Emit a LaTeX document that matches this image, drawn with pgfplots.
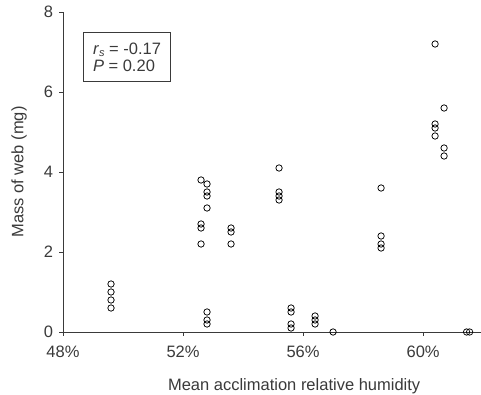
\documentclass[border=0pt]{standalone}
\usepackage{pgfplots}
\pgfplotsset{compat=1.18}
\usepackage{fontspec}
\setmainfont{Liberation Sans}
\definecolor{txt}{HTML}{3A3A3A}
\begin{document}
\begin{tikzpicture}[x=1pt,y=1pt]
\path[use as bounding box] (0,0) rectangle (481,395);
\begin{axis}[
  at={(63pt,63pt)}, anchor=south west,
  scale only axis, width=418pt, height=320pt,
  xmin=48, xmax=61.93, ymin=0, ymax=8,
  axis x line*=bottom, axis y line*=left,
  axis line style={-, color=txt, line width=0.8pt},
  tick align=outside, major tick length=4pt,
  tick style={color=txt, line width=0.8pt},
  xtick={48,52,56,60}, xticklabels={48\%,52\%,56\%,60\%},
  ytick={0,2,4,6,8},
  font=\fontsize{16}{19}\selectfont,
  tick label style={font=\fontsize{16.5}{19}\selectfont, color=txt},
  xticklabel style={yshift=-6pt},
  yticklabel style={xshift=-2.5pt},
  /pgf/number format/assume math mode=true,
  xlabel={Mean acclimation relative humidity},
  ylabel={Mass of web (mg)},
  xlabel style={at={(axis description cs:0.553,-0.168)}, anchor=center, color=txt, font=\fontsize{16.5}{19}\selectfont},
  ylabel style={at={(axis description cs:-0.105,0.5)}, anchor=center, color=txt, font=\fontsize{16.5}{19}\selectfont},
  clip=false,
]
\addplot[only marks, mark=o, mark size=3.2pt, mark options={line width=0.75pt, black, fill=white}] coordinates {
(49.6,1.2) (49.6,1.0) (49.6,0.8) (49.6,0.6)
(52.6,3.8) (52.6,2.7) (52.6,2.6) (52.6,2.2)
(52.8,3.7) (52.8,3.5) (52.8,3.4) (52.8,3.1) (52.8,0.5) (52.8,0.3) (52.8,0.2)
(53.6,2.6) (53.6,2.5) (53.6,2.2)
(55.2,4.1) (55.2,3.5) (55.2,3.4) (55.2,3.3)
(55.6,0.6) (55.6,0.5) (55.6,0.2) (55.6,0.1)
(56.4,0.4) (56.4,0.3) (56.4,0.2)
(57.0,0)
(58.6,3.6) (58.6,2.4) (58.6,2.2) (58.6,2.1)
(60.4,7.2) (60.4,5.2) (60.4,5.1) (60.4,4.9)
(60.7,5.6) (60.7,4.6) (60.7,4.4)
(61.45,0) (61.55,0)
};
\node[draw=txt, line width=0.8pt, anchor=north west, align=left, inner sep=0pt,
  minimum width=87pt, minimum height=49pt, text=txt, font=\fontsize{16.5}{17}\selectfont]
  at (axis cs:48.67,7.5) {\textit{r}\raisebox{-0.3ex}{\fontsize{11}{12}\selectfont\textit{s}} = -0.17\\\textit{P} = 0.20};
\end{axis}
\end{tikzpicture}
\end{document}
